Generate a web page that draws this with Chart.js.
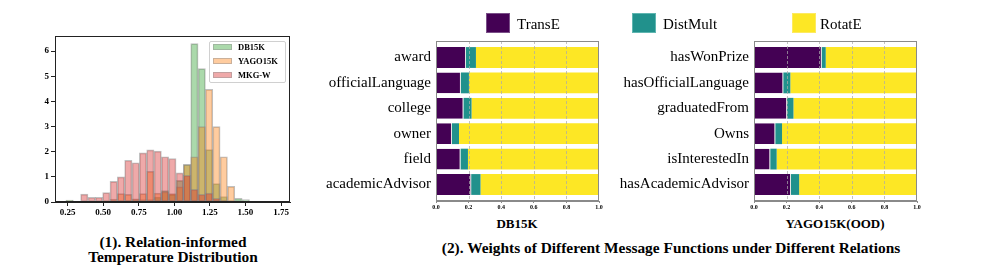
<!DOCTYPE html>
<html lang="en">
<head>
<meta charset="utf-8" />
<title>Relation-informed temperature and message function weights</title>
<script src="https://cdn.jsdelivr.net/npm/chart.js"></script>
<style>
    body { margin: 0; background: #fff; }
    .wrap { position: relative; width: 996px; height: 277px; overflow: hidden; font-family: 'Liberation Serif', 'Times New Roman', serif; color: #000; }
    canvas { position: absolute; top: 0; }
    .txt { position: absolute; white-space: nowrap; line-height: 1; }
    .caption { font-weight: bold; font-size: 15.4px; text-align: center; transform: translateX(-50%); }
    .xlab { font-weight: bold; font-size: 13px; transform: translateX(-50%); }
    .key { position: absolute; width: 24px; height: 20px; box-sizing: border-box; }
    .key-txt { position: absolute; font-size: 15px; line-height: 1; }
    .hist-legend { position: absolute; left: 209px; top: 41px; width: 77px; height: 42px; box-sizing: border-box; border: 1px solid #d0d0d0; border-radius: 2px; background: rgba(255,255,255,0.85); }
    .hist-legend .sw { position: absolute; left: 3px; width: 19px; height: 6px; box-sizing: border-box; border: 1px solid rgba(150,150,150,0.5); }
    .hist-legend .lb { position: absolute; left: 28px; font-size: 8.5px; font-weight: bold; line-height: 1; }
</style>
</head>
<body>
<div class="wrap">
    <canvas id="hist" width="300" height="230" style="left:0"></canvas>
    <canvas id="dbChart" width="310" height="215" style="left:300px"></canvas>
    <canvas id="yagoChart" width="320" height="215" style="left:610px"></canvas>

    <div class="hist-legend">
        <div class="sw" style="top:2px;background:rgba(44,160,44,0.4)"></div>
        <div class="lb" style="top:1px">DB15K</div>
        <div class="sw" style="top:16px;background:rgba(255,127,14,0.4)"></div>
        <div class="lb" style="top:15px">YAGO15K</div>
        <div class="sw" style="top:30px;background:rgba(214,39,40,0.4)"></div>
        <div class="lb" style="top:29px">MKG-W</div>
    </div>

    <div class="key" style="left:486px;top:13px;background:#440154;border:1px solid #7a4f88"></div>
    <div class="key-txt" style="left:517px;top:17px">TransE</div>
    <div class="key" style="left:632px;top:13px;background:#21918c;border:1px solid #5fb5b0"></div>
    <div class="key-txt" style="left:663px;top:17px">DistMult</div>
    <div class="key" style="left:792px;top:13px;background:#fde725;border:1px solid #fdea60"></div>
    <div class="key-txt" style="left:820px;top:17px">RotatE</div>

    <div class="txt xlab" style="left:517px;top:217px">DB15K</div>
    <div class="txt xlab" style="left:835px;top:217px">YAGO15K(OOD)</div>

    <div class="txt caption" style="left:173px;top:234px">(1). Relation-informed<br>Temperature Distribution</div>
    <div class="txt caption" style="left:671px;top:240px">(2). Weights of Different Message Functions under Different Relations</div>
</div>

<script>
    // histogram bins (centres) and heights
    const binCenters = [0.2638, 0.3154, 0.3670, 0.4186, 0.4702, 0.5218, 0.5734, 0.6250, 0.6766, 0.7282,
        0.7798, 0.8314, 0.8830, 0.9346, 0.9862, 1.0378, 1.0894, 1.1410, 1.1926, 1.2442,
        1.2958, 1.3474, 1.3990, 1.4506, 1.5022];
    const db15k = [0.08, 0, 0, 0, 0, 0, 0, 0, 0.05, 0.1,
        0.1, 0.1, 0.2, 0.45, 0.3, 0.86, 1.5, 6.3, 5.3, 2.08,
        0.73, 0.22, 0.05, 0.15, 0.1];
    const yago15k = [0.05, 0.03, 0, 0, 0, 0.05, 0.12, 0.33, 0.3, 0.13,
        0.33, 1.22, 0.35, 0.4, 0.33, 0.6, 1.48, 1.8, 3.0, 4.48,
        3.0, 1.8, 0.62, 0, 0];
    const mkgw = [0, 0.03, 0.31, 0.19, 0.19, 0.37, 0.82, 1.0, 1.66, 1.56,
        1.95, 2.07, 2.02, 1.8, 1.73, 1.16, 1.06, 0.5, 0.3, 0.35,
        0.15, 0.05, 0, 0, 0];
    const histXTicks = [0.25, 0.5, 0.75, 1.0, 1.25, 1.5, 1.75];
    const histYTicks = [0, 1, 2, 3, 4, 5, 6];

    // message function weights
    const dbRelations = ['award', 'officialLanguage', 'college', 'owner', 'field', 'academicAdvisor'];
    const dbTransE = [0.184, 0.153, 0.169, 0.098, 0.151, 0.216];
    const dbDistMult = [0.061, 0.049, 0.049, 0.043, 0.045, 0.057];
    const dbRotatE = [0.755, 0.798, 0.782, 0.859, 0.804, 0.727];

    const yagoRelations = ['hasWonPrize', 'hasOfficialLanguage', 'graduatedFrom', 'Owns', 'isInterestedIn', 'hasAcademicAdvisor'];
    const yagoTransE = [0.416, 0.180, 0.203, 0.131, 0.100, 0.227];
    const yagoDistMult = [0.024, 0.043, 0.039, 0.041, 0.039, 0.050];
    const yagoRotatE = [0.560, 0.777, 0.758, 0.828, 0.861, 0.723];

    const weightTicks = [0, 0.2, 0.4, 0.6, 0.8, 1.0];

    const SERIF = "'Liberation Serif', 'Times New Roman', serif";

    // box around the plot area
    const frame = {
        id: 'frame',
        afterDraw(chart, args, opts) {
            const a = chart.chartArea, c = chart.ctx;
            c.save();
            c.strokeStyle = opts.color || '#000';
            c.lineWidth = 1;
            c.strokeRect(Math.round(a.left) + 0.5, Math.round(a.top) + 0.5,
                Math.round(a.right - a.left) - 1, Math.round(a.bottom - a.top) - 1);
            c.restore();
        }
    };

    // dashed grid drawn over the bars
    const topGrid = {
        id: 'topGrid',
        afterDatasetsDraw(chart, args, opts) {
            if (!opts.on) return;
            const a = chart.chartArea, c = chart.ctx, x = chart.scales.x;
            c.save();
            c.strokeStyle = 'rgba(170,170,170,0.9)';
            c.lineWidth = 0.8;
            c.setLineDash([3, 2]);
            weightTicks.slice(1, -1).forEach(v => {
                const px = Math.round(x.getPixelForValue(v)) + 0.5;
                c.beginPath();
                c.moveTo(px, a.top);
                c.lineTo(px, a.bottom);
                c.stroke();
            });
            c.restore();
        }
    };

    function histSet(label, values, color, order) {
        return {
            label: label,
            data: binCenters.map((x, i) => ({ x: x, y: values[i] })).filter(p => p.y > 0),
            backgroundColor: color,
            borderColor: 'rgba(130,130,130,0.5)',
            borderWidth: 1,
            borderSkipped: false,
            barPercentage: 1,
            categoryPercentage: 1,
            grouped: false,
            order: order
        };
    }

    new Chart(document.getElementById('hist'), {
        type: 'bar',
        data: {
            datasets: [
                histSet('DB15K', db15k, 'rgba(44,160,44,0.4)', 3),
                histSet('YAGO15K', yago15k, 'rgba(255,127,14,0.4)', 2),
                histSet('MKG-W', mkgw, 'rgba(214,39,40,0.4)', 1)
            ]
        },
        options: {
            responsive: false,
            animation: false,
            layout: { padding: { top: 36, right: 10, left: 0, bottom: 0 } },
            plugins: { legend: { display: false }, tooltip: { enabled: false }, frame: { color: '#222' }, topGrid: { on: false } },
            scales: {
                x: {
                    type: 'linear',
                    offset: false,
                    min: 0.161,
                    max: 1.813,
                    afterBuildTicks: s => { s.ticks = histXTicks.map(v => ({ value: v })); },
                    afterFit: s => { s.height = 28; },
                    ticks: { callback: v => v.toFixed(2), font: { family: SERIF, size: 9, weight: 'bold' }, color: '#000', padding: 1, maxRotation: 0 },
                    grid: { drawOnChartArea: false, tickLength: 4, color: '#222', offset: false },
                    border: { color: '#222' }
                },
                y: {
                    min: 0,
                    max: 6.6,
                    afterBuildTicks: s => { s.ticks = histYTicks.map(v => ({ value: v })); },
                    afterFit: s => { s.width = 55; },
                    ticks: { font: { family: SERIF, size: 9, weight: 'bold' }, color: '#000', padding: 2 },
                    grid: { drawOnChartArea: false, tickLength: 4, color: '#222' },
                    border: { color: '#222' }
                }
            }
        },
        plugins: [frame]
    });

    function weightChart(id, relations, transE, distMult, rotatE, yWidth, rightPad) {
        const seg = (label, values, color, edge) => ({
            label: label,
            data: values.map((v, i) => ({ y: i, x: v })),
            backgroundColor: color,
            borderColor: 'rgba(215,215,215,0.7)',
            borderWidth: edge ? { top: 0, bottom: 0, left: 0, right: 1 } : 0,
            barPercentage: 0.82,
            categoryPercentage: 1
        });
        return new Chart(document.getElementById(id), {
            type: 'bar',
            data: {
                datasets: [
                    seg('TransE', transE, '#440154', true),
                    seg('DistMult', distMult, '#21918c', false),
                    seg('RotatE', rotatE, '#fde725', false)
                ]
            },
            options: {
                indexAxis: 'y',
                responsive: false,
                animation: false,
                layout: { padding: { top: 41, right: rightPad, left: 0, bottom: 0 } },
                plugins: { legend: { display: false }, tooltip: { enabled: false }, frame: { color: '#8a8a8a' }, topGrid: { on: true } },
                scales: {
                    x: {
                        type: 'linear',
                        stacked: true,
                        min: 0,
                        max: 1,
                        afterBuildTicks: s => { s.ticks = weightTicks.map(v => ({ value: v })); },
                        afterFit: s => { s.height = 14; },
                        ticks: { callback: v => v.toFixed(1), font: { family: SERIF, size: 6, weight: 'bold' }, color: '#000', padding: 1, maxRotation: 0 },
                        grid: { drawOnChartArea: false, tickLength: 2, color: '#8a8a8a' },
                        border: { color: '#8a8a8a' }
                    },
                    y: {
                        type: 'linear',
                        stacked: true,
                        reverse: true,
                        offset: false,
                        min: -0.65,
                        max: relations.length - 1 + 0.65,
                        afterBuildTicks: s => { s.ticks = relations.map((r, i) => ({ value: i })); },
                        afterFit: s => { s.width = yWidth; },
                        ticks: { callback: v => relations[v], font: { family: SERIF, size: 15 }, color: '#000', padding: 5 },
                        grid: { display: false, drawTicks: false, offset: false },
                        border: { color: '#8a8a8a' }
                    }
                }
            },
            plugins: [frame, topGrid]
        });
    }

    weightChart('dbChart', dbRelations, dbTransE, dbDistMult, dbRotatE, 136, 11);
    weightChart('yagoChart', yagoRelations, yagoTransE, yagoDistMult, yagoRotatE, 144, 13);
</script>
</body>
</html>
